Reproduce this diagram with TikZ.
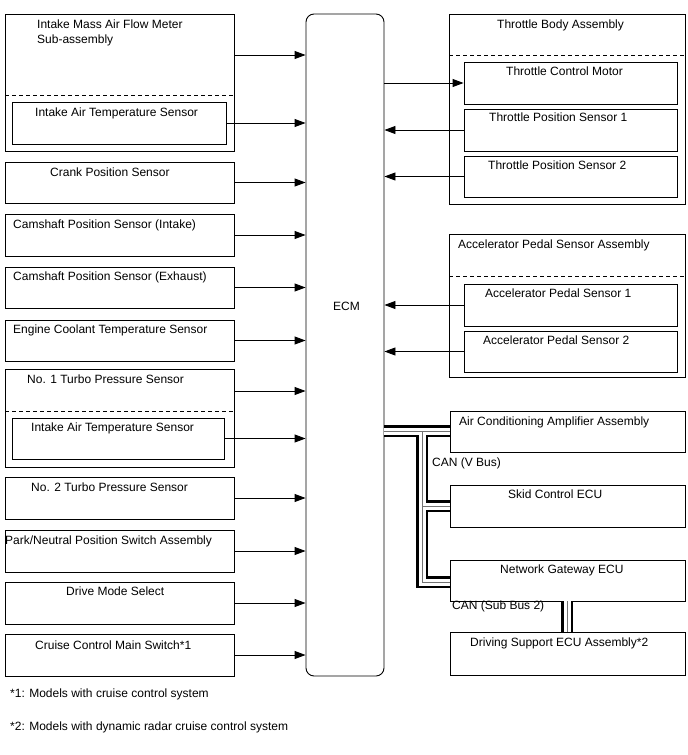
\documentclass[tikz,border=0pt]{standalone}
\usepackage{fontspec}
\setmainfont{Liberation Sans}
\usetikzlibrary{arrows.meta,fit}
\begin{document}
\begin{tikzpicture}[x=1pt,y=-1pt,
  box/.style={draw, line width=0.9pt, inner sep=0pt},
  lbl/.style={anchor=west, inner sep=0pt, text height=8.6pt, text depth=0pt, font=\fontsize{12}{14}\selectfont},
  arr/.style={line width=0.9pt, -{Triangle[length=11pt,width=8pt]}},
  sepline/.style={line width=0.9pt, dash pattern=on 4pt off 3pt},
  busouter/.style={line width=12pt, black},
  businner/.style={line width=7pt, white},
  buscore/.style={line width=1pt, black!55}]
\useasboundingbox (0,0) rectangle (688,755);

% ECM
\node[box, rounded corners=8pt, fit={(306,14) (384,676)}] (ecm) {};
\node[lbl] (tecm) at (333,306) {ECM};

% Left column
\node[box, fit={(5,14) (234,151)}] (maf) {};
\draw[sepline] (5,95) -- (234,95);
\node[box, fit={(12,102) (226,144)}] (iat1) {};
\node[box, fit={(5,162) (234,203)}] (crank) {};
\node[box, fit={(5,214) (234,256)}] (camin) {};
\node[box, fit={(5,267) (234,308)}] (camex) {};
\node[box, fit={(5,320) (234,361)}] (ect) {};
\node[box, fit={(5,369) (234,467)}] (turbo1) {};
\draw[sepline] (5,411) -- (234,411);
\node[box, fit={(12,418) (224,459)}] (iat2) {};
\node[box, fit={(5,477) (234,519)}] (turbo2) {};
\node[box, fit={(5,530) (234,572)}] (pnp) {};
\node[box, fit={(5,582) (234,624)}] (dms) {};
\node[box, fit={(5,634) (234,676)}] (ccs) {};

\node[lbl] (tmaf1) at (37,24) {Intake Mass Air Flow Meter};
\node[lbl] (tmaf2) at (37,39) {Sub-assembly};
\node[lbl] (tiat1) at (35,112) {Intake Air Temperature Sensor};
\node[lbl] (tcrank) at (50,172) {Crank Position Sensor};
\node[lbl] (tcamin) at (13,224) {Camshaft Position Sensor (Intake)};
\node[lbl] (tcamex) at (13,276) {Camshaft Position Sensor (Exhaust)};
\node[lbl] (tect) at (13,329) {Engine Coolant Temperature Sensor};
\node[lbl] (tturbo1) at (27,379) {No. 1 Turbo Pressure Sensor};
\node[lbl] (tiat2) at (31,427) {Intake Air Temperature Sensor};
\node[lbl] (tturbo2) at (31,487) {No. 2 Turbo Pressure Sensor};
\node[lbl] (tpnp) at (5,540) {Park/Neutral Position Switch Assembly};
\node[lbl] (tdms) at (66,591) {Drive Mode Select};
\node[lbl] (tccs) at (35,645) {Cruise Control Main Switch*1};

\node[lbl] (fn1) at (10,693) {*1: Models with cruise control system};
\node[lbl] (fn2) at (10,726) {*2: Models with dynamic radar cruise control system};

% Left arrows
\coordinate (mafo) at (234,55);
\coordinate (turbo1o) at (234,391);
\draw[arr] (mafo) -- (mafo -| ecm.west);
\draw[arr] (iat1.east) -- (iat1.east -| ecm.west);
\draw[arr] (crank.east) -- (crank.east -| ecm.west);
\draw[arr] (camin.east) -- (camin.east -| ecm.west);
\draw[arr] (camex.east) -- (camex.east -| ecm.west);
\draw[arr] (ect.east) -- (ect.east -| ecm.west);
\draw[arr] (turbo1o) -- (turbo1o -| ecm.west);
\draw[arr] (iat2.east) -- (iat2.east -| ecm.west);
\draw[arr] (turbo2.east) -- (turbo2.east -| ecm.west);
\draw[arr] (pnp.east) -- (pnp.east -| ecm.west);
\draw[arr] (dms.east) -- (dms.east -| ecm.west);
\draw[arr] (ccs.east) -- (ccs.east -| ecm.west);

% Right column
\node[box, fit={(449,14) (685,204)}] (tba) {};
\draw[sepline] (449,55) -- (685,55);
\node[box, fit={(464,62) (677,104)}] (tcm) {};
\node[box, fit={(464,109) (677,151)}] (tps1) {};
\node[box, fit={(464,156) (677,197)}] (tps2) {};
\node[box, fit={(449,234) (685,377)}] (apsa) {};
\draw[sepline] (449,276) -- (685,276);
\node[box, fit={(464,284) (677,326)}] (aps1) {};
\node[box, fit={(464,331) (677,372)}] (aps2) {};
\node[box, fit={(450,411) (685,452)}] (ac) {};
\node[box, fit={(450,485) (685,527)}] (skid) {};
\node[box, fit={(450,560) (685,601)}] (ngw) {};
\node[box, fit={(450,632) (685,675)}] (dsecu) {};

\node[lbl] (ttba) at (497,24) {Throttle Body Assembly};
\node[lbl] (ttcm) at (506,71) {Throttle Control Motor};
\node[lbl] (ttps1) at (489,117) {Throttle Position Sensor 1};
\node[lbl] (ttps2) at (488,165) {Throttle Position Sensor 2};
\node[lbl] (tapsa) at (458,244) {Accelerator Pedal Sensor Assembly};
\node[lbl] (taps1) at (485,293) {Accelerator Pedal Sensor 1};
\node[lbl] (taps2) at (483,340) {Accelerator Pedal Sensor 2};
\node[lbl] (tac) at (459,421) {Air Conditioning Amplifier Assembly};
\node[lbl] (tvbus) at (432,462) {CAN (V Bus)};
\node[lbl] (tskid) at (508,494) {Skid Control ECU};
\node[lbl] (tngw) at (500,569) {Network Gateway ECU};
\node[lbl] (tsub) at (452,605) {CAN (Sub Bus 2)};
\node[lbl] (tdsecu) at (470,642) {Driving Support ECU Assembly*2};

% Right arrows
\draw[arr] (tcm.west -| ecm.east) -- (tcm.west);
\draw[arr] (tps1.west) -- (tps1.west -| ecm.east);
\draw[arr] (tps2.west) -- (tps2.west -| ecm.east);
\draw[arr] (aps1.west) -- (aps1.west -| ecm.east);
\draw[arr] (aps2.west) -- (aps2.west -| ecm.east);

% CAN bus
\coordinate (bj1) at (422,431);
\coordinate (bj2) at (422,506);
\coordinate (bj3) at (422,582);
\coordinate (sbx) at (567,0);
\foreach \s in {busouter,businner,buscore}{
  \draw[\s] (bj1 -| ecm.east) -- (bj1 -| ac.west);
  \draw[\s] (bj1) -- (bj3) -- (bj3 -| ngw.west);
  \draw[\s] (bj2) -- (bj2 -| skid.west);
  \draw[\s] (sbx |- ngw.south) -- (sbx |- dsecu.north);
}
\end{tikzpicture}
\end{document}
